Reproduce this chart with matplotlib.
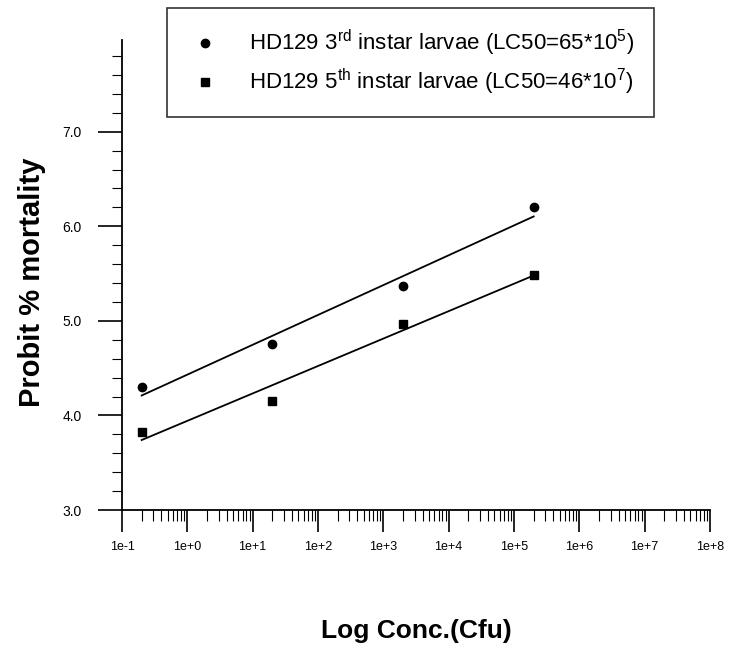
import numpy as np
import matplotlib.pyplot as plt
from matplotlib.ticker import LogLocator, NullFormatter, MultipleLocator

plt.rcParams['font.family'] = ['Liberation Sans', 'DejaVu Sans']
plt.rcParams['mathtext.default'] = 'regular'

# concentrations (Cfu) and probit values
conc = [0.2, 20, 2000, 200000]
probit_3rd = [4.30, 4.76, 5.37, 6.20]
probit_5th = [3.83, 4.15, 4.97, 5.49]

label_3rd = 'HD129 3$^{rd}$ instar larvae (LC50=65*10$^{5}$)'
label_5th = 'HD129 5$^{th}$ instar larvae (LC50=46*10$^{7}$)'

xtick_vals = [1e-1, 1e0, 1e1, 1e2, 1e3, 1e4, 1e5, 1e6, 1e7, 1e8]
xtick_labels = ['1e-1', '1e+0', '1e+1', '1e+2', '1e+3', '1e+4', '1e+5', '1e+6', '1e+7', '1e+8']
ytick_vals = [3, 4, 5, 6, 7]

fig = plt.figure(figsize=(7.35, 6.62), dpi=100)
ax = fig.add_axes([0.166, 0.2296, 0.800, 0.710])

logc = np.log10(conc)
# probit regression lines
for y in (probit_3rd, probit_5th):
    k, b = np.polyfit(logc, y, 1)
    ax.plot(conc, k * logc + b, color='black', lw=1.3)

ax.plot(conc, probit_3rd, 'o', color='black', ms=6, label=label_3rd)
ax.plot(conc, probit_5th, 's', color='black', ms=6, label=label_5th)

ax.set_xscale('log')
ax.set_xlim(1e-1, 1e8)
ax.set_ylim(3, 7.97)
ax.set_xticks(xtick_vals)
ax.set_xticklabels(xtick_labels, fontsize=9)
ax.xaxis.set_minor_locator(LogLocator(base=10, subs=np.arange(2, 10)))
ax.xaxis.set_minor_formatter(NullFormatter())
ax.set_yticks(ytick_vals)
ax.set_yticklabels(['%.1f' % v for v in ytick_vals], fontsize=10)
ax.yaxis.set_minor_locator(MultipleLocator(0.2))

ax.tick_params(axis='x', which='major', direction='out', length=16, width=1.2, pad=6)
ax.tick_params(axis='x', which='minor', direction='out', length=8, width=0.8)
ax.tick_params(axis='y', which='major', direction='out', length=17, width=1.2, pad=12)
ax.tick_params(axis='y', which='minor', direction='out', length=7, width=0.8)

for s in ('top', 'right'):
    ax.spines[s].set_visible(False)
for s in ('left', 'bottom'):
    ax.spines[s].set_linewidth(1.3)

ax.set_xlabel('Log Conc.(Cfu)', fontsize=19, fontweight='bold')
ax.xaxis.set_label_coords(0.5, -0.232)
ax.set_ylabel('Probit % mortality', fontsize=21, fontweight='bold')
ax.yaxis.set_label_coords(-0.13, 0.485)

leg = fig.legend(loc='upper left', bbox_to_anchor=(0.227, 0.988), fontsize=16,
                 frameon=True, fancybox=False, edgecolor='black',
                 handletextpad=1.2, borderpad=0.9, labelspacing=0.4,
                 handlelength=1.6, borderaxespad=0)
leg.get_frame().set_linewidth(1.2)

fig.savefig('out.png', dpi=100)
